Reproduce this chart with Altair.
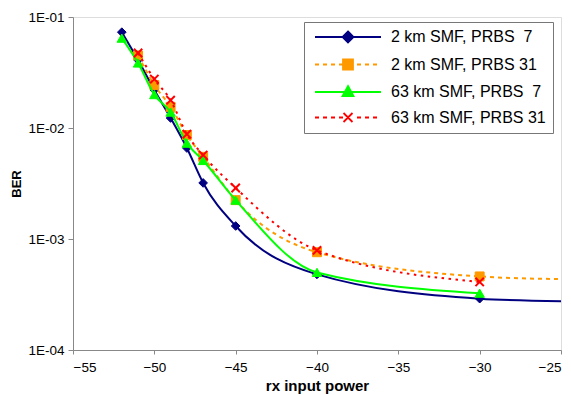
import altair as alt
import pandas as pd

# ---------------- data ----------------
series_names = [
    "\u00a02 km SMF, PRBS\u00a0\u00a07",
    "\u00a02 km SMF, PRBS 31",
    "63 km SMF, PRBS\u00a0\u00a07",
    "63 km SMF, PRBS 31",
]
x_power = [-52, -51, -50, -49, -48, -47, -45, -40, -30]
ber_2km_prbs7 = [7.3e-2, 4.1e-2, 2.2e-2, 1.23e-2, 6.6e-3, 3.2e-3, 1.31e-3, 4.8e-4, 2.9e-4]
ber_2km_prbs31 = [None, 4.5e-2, 2.44e-2, 1.55e-2, 8.65e-3, 5.5e-3, 2.24e-3, 7.6e-4, 4.6e-4]
ber_63km_prbs7 = [6.45e-2, 3.85e-2, 2.0e-2, 1.39e-2, 7.3e-3, 5.1e-3, 2.24e-3, 5.0e-4, 3.25e-4]
ber_63km_prbs31 = [None, 4.74e-2, 2.76e-2, 1.78e-2, 8.8e-3, 5.7e-3, 2.88e-3, 7.9e-4, 4.1e-4]
# line continuation (no marker) at the right edge
x_tail = -25
tail_2km_prbs7 = 2.75e-4
tail_2km_prbs31 = 4.35e-4

x_ticks = [-55, -50, -45, -40, -35, -30, -25]
y_ticks = [1e-4, 1e-3, 1e-2, 1e-1]

# ---------------- styles ----------------
colors = ["#000080", "#FF9900", "#00FF00", "#FF0000"]
dashes = [None, [4, 4], None, [2.5, 4.5]]
shapes = ["diamond", "square", "triangle-up", "M-1,-1L1,1M-1,1L1,-1"]
filled = [True, True, True, False]
sizes = [75, 80, 90, 70]
stroke_widths = [1, 1, 1, 2]
legend_shapes = [
    "M-6.6,0H6.6M0,-1.1L1.1,0L0,1.1L-1.1,0Z",
    "M-6.6,0H-5.8M-5,0H-4.2M-3.4,0H-2.6M-1.8,0H-1M1.8,0H2.6M3.4,0H4.2M5,0H5.8M-1,-1H1V1H-1Z",
    "M-6.6,0H6.6M0,-1.2L1.1,0.8L-1.1,0.8Z",
    "M-6.6,0H-5.8M-5,0H-4.2M-3.4,0H-2.6M-1.8,0H-1M1.8,0H2.6M3.4,0H4.2M5,0H5.8M-0.9,-0.9L0.9,0.9M-0.9,0.9L0.9,-0.9",
]

all_series = [ber_2km_prbs7, ber_2km_prbs31, ber_63km_prbs7, ber_63km_prbs31]
tails = {0: tail_2km_prbs7, 1: tail_2km_prbs31}

point_rows, line_rows = [], []
for i, (name, vals) in enumerate(zip(series_names, all_series)):
    for xv, yv in zip(x_power, vals):
        if yv is None:
            continue
        point_rows.append({"series": name, "k": i, "x": xv, "y": yv})
        line_rows.append({"series": name, "k": i, "x": xv, "y": yv})
    if i in tails:
        line_rows.append({"series": name, "k": i, "x": x_tail, "y": tails[i]})

pts = pd.DataFrame(point_rows)
lns = pd.DataFrame(line_rows)

FONT = "Liberation Sans"

x_enc = alt.X(
    "x:Q",
    scale=alt.Scale(domain=[-55, -25], nice=False, zero=False),
    axis=alt.Axis(
        title="rx input power", values=x_ticks, grid=False, tickSize=4,
        labelPadding=6, titlePadding=5, labelFontSize=13.5, titleFontSize=15,
        titleFontWeight="bold",
    ),
)
y_enc = alt.Y(
    "y:Q",
    scale=alt.Scale(type="log", domain=[1e-4, 1e-1], nice=False),
    axis=alt.Axis(
        title="BER", values=y_ticks, grid=False, tickSize=5, labelPadding=4,
        labelExpr="'1E-0' + abs(round(log(datum.value) / LN10))",
        titlePadding=4, labelFontSize=13.5, titleFontSize=13, titleFontWeight="bold",
    ),
)

layers = []
for i in range(4):
    line_kw = dict(interpolate="monotone", strokeWidth=2, color=colors[i])
    if dashes[i] is not None:
        line_kw["strokeDash"] = dashes[i]
    ln = alt.Chart(lns).transform_filter(f"datum.k == {i}").mark_line(**line_kw).encode(
        x=x_enc if i == 0 else alt.X("x:Q"),
        y=y_enc if i == 0 else alt.Y("y:Q"),
        order=alt.Order("x:Q"),
    )
    pt_kw = dict(shape=shapes[i], size=sizes[i], opacity=1, strokeWidth=stroke_widths[i],
                 stroke=colors[i], filled=filled[i])
    if filled[i]:
        pt_kw["fill"] = colors[i]
    pt = alt.Chart(pts).transform_filter(f"datum.k == {i}").mark_point(**pt_kw).encode(
        x=alt.X("x:Q"),
        y=alt.Y("y:Q"),
    )
    layers += [ln, pt]

color_scale = alt.Scale(domain=series_names, range=colors)
leg = alt.Legend(
    title=None, orient="none", legendX=231, legendY=5,
    symbolSize=100, symbolStrokeWidth=1.8, symbolOffset=29, labelOffset=35,
    labelFontSize=16, labelFont=FONT, labelColor="#000", rowPadding=8.5,
    padding=7, strokeColor="#777777", fillColor="#ffffff", labelLimit=300,
)

legend_layer = alt.Chart(pts).transform_filter("false").mark_point(filled=True, opacity=1).encode(
    x=alt.X("x:Q"),
    y=alt.Y("y:Q"),
    fill=alt.Fill("series:N", scale=color_scale, legend=leg),
    stroke=alt.Stroke("series:N", scale=color_scale, legend=leg),
    shape=alt.Shape("series:N", scale=alt.Scale(domain=series_names, range=legend_shapes), legend=leg),
)

chart = (
    alt.layer(*layers, legend_layer)
    .properties(
        width=488, height=333,
        autosize=alt.AutoSizeParams(type="none"),
        padding={"left": 65, "top": 9, "right": 2, "bottom": 48},
    )
    .configure_view(stroke="#222222", strokeWidth=1)
    .configure_axis(
        labelFont=FONT, titleFont=FONT, labelColor="#000", titleColor="#000",
        domainColor="#000", tickColor="#000", domainWidth=1, tickWidth=1,
    )
    .configure(background="#ffffff")
)

chart.save("out.html", embed_options={"renderer": "svg", "actions": False})
